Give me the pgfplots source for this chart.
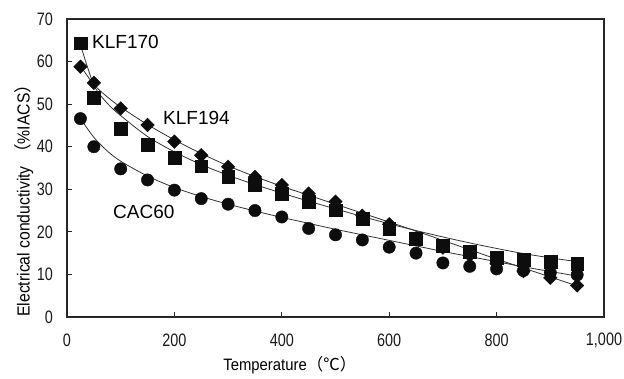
\documentclass[border=0pt]{standalone}
\usepackage{fontspec}
\setmainfont{Liberation Sans}
\newfontfamily\tickfont[FakeStretch=0.8]{Liberation Sans}
\newfontfamily\labfont[FakeStretch=0.9]{Liberation Sans}
\newfontfamily\cjk{Noto Sans CJK JP}
\usepackage{pgfplots}
\pgfplotsset{compat=1.18}
\pgfplotstableread{
x k170 k194 cac
25 64.3 58.8 46.6
50 51.6 55.0 40.0
100 44.3 49.0 34.8
150 40.4 45.1 32.2
200 37.5 41.2 29.8
250 35.4 38.0 27.8
300 33.0 35.3 26.5
350 31.1 32.9 25.0
400 29.0 31.0 23.5
450 27.1 29.0 20.8
500 25.1 27.1 19.3
550 23.0 23.8 18.1
600 20.7 21.8 16.4
650 18.4 18.5 15.0
700 16.8 16.3 12.7
750 15.4 14.5 11.9
800 14.0 12.6 11.3
850 13.5 10.8 10.9
900 13.0 9.2 10.4
950 12.6 7.4 9.9
}\pts
\pgfplotstableread{
x k170 k194 cac
25 64.0 59.0 46.6
50 54.5 54.6 42.2
75 50.2 51.7 39.0
100 47.3 49.3 36.6
150 42.4 45.2 33.1
200 38.8 41.6 30.4
250 35.8 38.4 28.3
300 33.3 35.5 26.5
350 31.1 33.0 24.9
400 29.1 30.7 23.4
450 27.2 28.6 22.0
500 25.4 26.5 20.6
550 23.6 24.4 19.3
600 21.9 22.3 18.0
650 20.3 20.2 16.7
700 18.8 18.0 15.4
750 17.4 15.8 14.2
800 16.1 13.6 13.0
850 14.9 11.5 11.8
900 13.9 9.4 10.7
950 13.0 7.3 9.6
}\fits
\begin{document}
\begin{tikzpicture}
\path[use as bounding box] (-67pt,-62pt) rectangle (557pt,317pt);
\begin{axis}[
  scale only axis, width=537pt, height=298pt,
  xmin=0, xmax=1000, ymin=0, ymax=70,
  xtick={0,200,...,1000}, ytick={0,10,...,70},
  tick align=inside, xtick pos=bottom, ytick pos=left,
  major tick length=5pt,
  axis line style={black!85, line width=1.1pt},
  tick style={black!85, line width=0.8pt},
  /pgf/number format/assume math mode=true,
  /pgf/number format/1000 sep={,},
  ticklabel style={font=\tickfont\fontsize{18}{18}\selectfont, text=black!90, inner sep=0pt},
  xticklabel style={anchor=center, yshift=-23pt},
  yticklabel style={anchor=east, xshift=-14pt},
  xlabel={Temperature\cjk{（℃）}},
  ylabel={Electrical conductivity {\cjk{（}}\%IACS{\cjk{）}}},
  xlabel style={font=\labfont\fontsize{16.5}{16.5}\selectfont, at={(axis description cs:0.415,-0.161)}, anchor=center},
  ylabel style={font=\labfont\fontsize{17.5}{17.5}\selectfont, at={(axis description cs:-0.080,0.405)}, anchor=center},
  clip=false,
]
\addplot[black!80, line width=0.8pt, smooth, no marks] table[x=x,y=k170] {\fits};
\addplot[black!80, line width=0.8pt, smooth, no marks] table[x=x,y=k194] {\fits};
\addplot[black!80, line width=0.8pt, smooth, no marks] table[x=x,y=cac] {\fits};
\addplot[only marks, mark=*, mark size=6.2pt, black!95] table[x=x,y=cac] {\pts};
\addplot[only marks, mark=square*, mark options={rotate=45}, mark size=4.8pt, black!95] table[x=x,y=k194] {\pts};
\addplot[only marks, mark=square*, mark size=6.4pt, black!95] table[x=x,y=k170] {\pts};
\node[anchor=west, font=\fontsize{19}{19}\selectfont, inner sep=0pt] at (axis cs:46.6,64.6) {KLF170};
\node[anchor=west, font=\fontsize{19}{19}\selectfont, inner sep=0pt] at (axis cs:178.8,46.7) {KLF194};
\node[anchor=west, font=\fontsize{19}{19}\selectfont, inner sep=0pt] at (axis cs:85.7,24.7) {CAC60};
\end{axis}
\end{tikzpicture}
\end{document}
